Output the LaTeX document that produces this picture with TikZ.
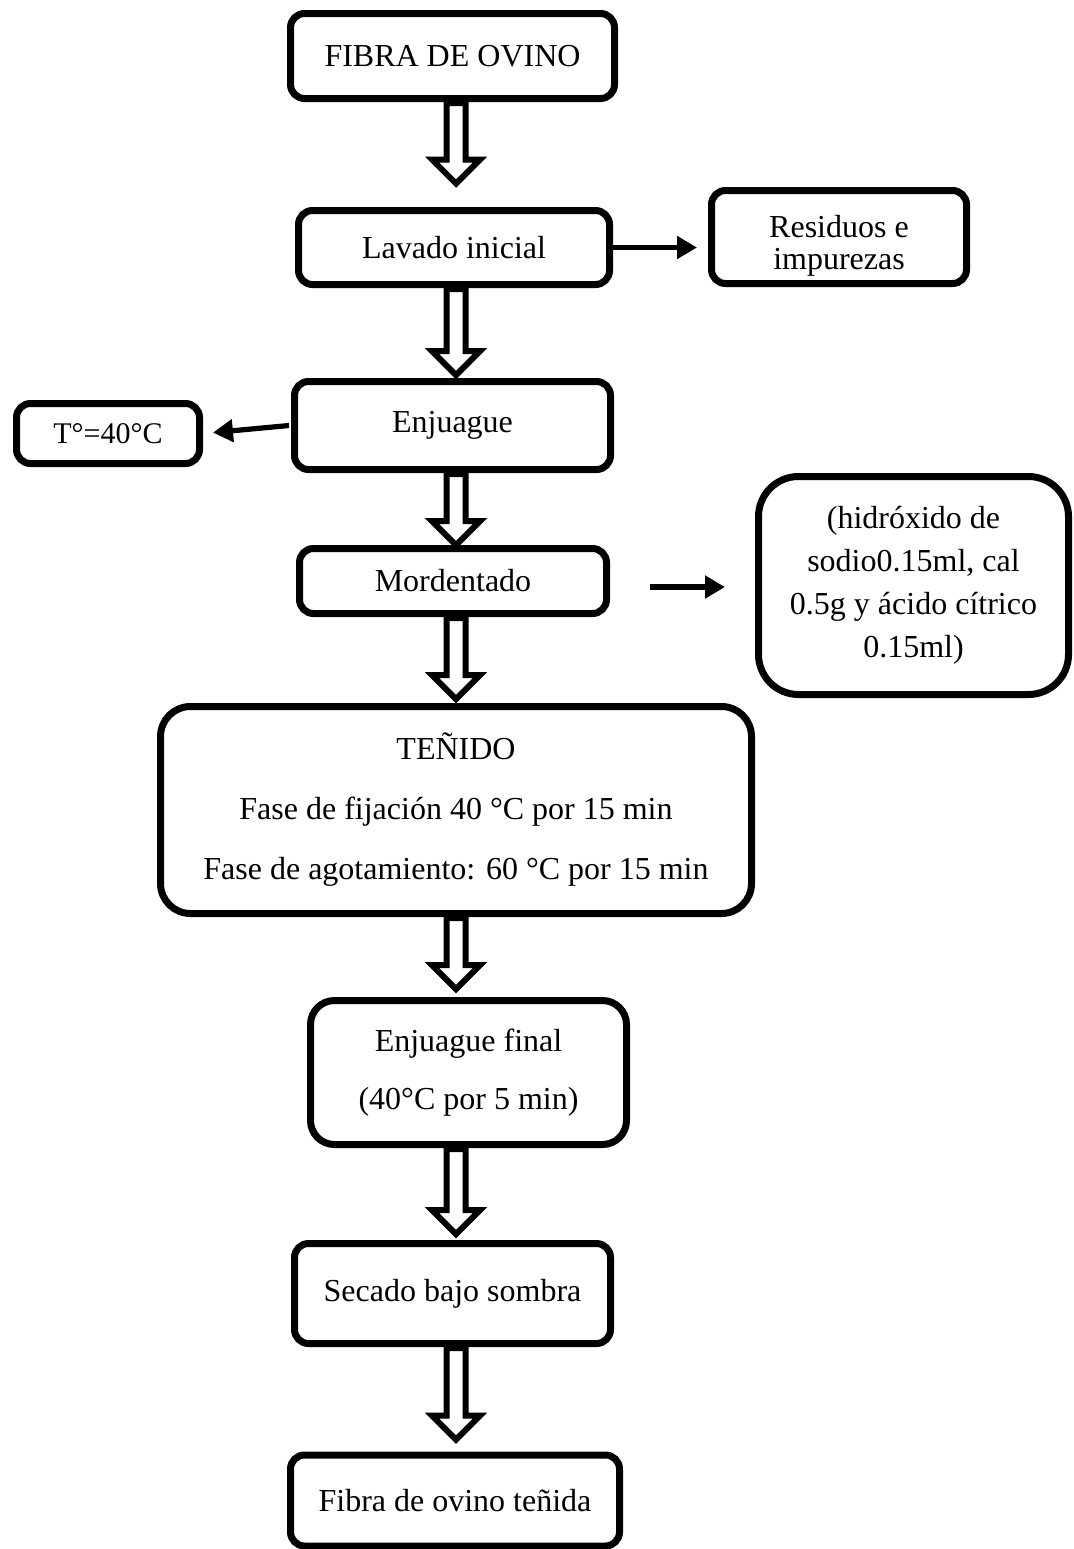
\documentclass[tikz,border=0pt]{standalone}
\usepackage{fontspec}
\setmainfont{Liberation Serif}
\usetikzlibrary{arrows.meta,calc}

\tikzset{
  paso/.style={draw, line width=3.5pt, rounded corners=7pt, align=center,
    inner sep=2pt, font=\fontsize{16}{21.5}\selectfont},
  lateral/.style={line width=2.6pt, -{Triangle[length=10pt,width=11pt]}},
  hueco/.style={draw, line width=3pt, fill=white, line join=miter},
}
% flecha hueca vertical: [hueco al nodo]{salida}{llegada}
\newcommand\hollowarrow[3][0pt]{%
  \draw[hueco] let \p1=(#2 -| eje), \p2=(#3 -| eje) in
    (\x1-4.75pt,\y1-0.5pt) -- (\x1-4.75pt,\y2+#1+12pt) -- (\x1-12pt,\y2+#1+12pt)
    -- (\x1,\y2+#1) -- (\x1+12pt,\y2+#1+12pt) -- (\x1+4.75pt,\y2+#1+12pt)
    -- (\x1+4.75pt,\y1-0.5pt) -- cycle;}

\begin{document}
\begin{tikzpicture}[x=0.5pt,y=-0.5pt]
\useasboundingbox (0,0) rectangle (1074,1549);
\coordinate (eje) at (456,0);

\node[paso, minimum width=162pt, minimum height=42.5pt] (fibra) at (452.5,56) {FIBRA DE OVINO};
\node[paso, minimum width=155.5pt, minimum height=37pt] (lavado) at (454,247.5) {Lavado inicial};
\node[paso, minimum width=127.5pt, minimum height=46.5pt,
  font=\fontsize{16}{16}\selectfont] (residuos) at (839,237)
  {\raisebox{-8.5pt}[0pt][0pt]{\parbox[c]{115pt}{\centering Residuos e\\impurezas}}};
\node[paso, minimum width=91.5pt, minimum height=30pt,
  font=\fontsize{15}{18}\selectfont] (temp) at (108,433.5) {T°=40°C};
\node[paso, minimum width=158pt, minimum height=44pt] (enjuague) at (452.5,425.5) {Enjuague};
\node[paso, minimum width=153.5pt, minimum height=32.5pt] (mordentado) at (453,581) {Mordentado};
\node[paso, minimum width=155pt, minimum height=109pt, rounded corners=20pt] (quimicos) at (913.5,585.5)
  {(hidróxido de\\sodio0.15ml, cal\\0.5g y ácido cítrico\\0.15ml)};
\node[paso, minimum width=295.5pt, minimum height=103.5pt, rounded corners=15pt,
  font=\fontsize{16}{30}\selectfont] (tenido) at (456,810)
  {TEÑIDO\\Fase de fijación 40 °C por 15 min\\Fase de agotamiento: 60 °C por 15 min};
\node[paso, minimum width=158pt, minimum height=72pt, rounded corners=12pt,
  font=\fontsize{16}{29}\selectfont] (final) at (468.5,1072.5) {Enjuague final\\(40°C por 5 min)};
\node[paso, minimum width=158pt, minimum height=50pt] (secado) at (452.5,1293.5) {Secado bajo sombra};
\node[paso, minimum width=164.5pt, minimum height=45.5pt] (tenida) at (455,1500.5) {Fibra de ovino teñida};

\hollowarrow[11.75pt]{fibra.south}{lavado.north}
\hollowarrow[1.5pt]{lavado.south}{enjuague.north}
\hollowarrow{enjuague.south}{mordentado.north}
\hollowarrow[2pt]{mordentado.south}{tenido.north}
\hollowarrow[4pt]{tenido.south}{final.north}
\hollowarrow[3pt]{final.south}{secado.north}
\hollowarrow[6pt]{secado.south}{tenida.north}

\draw[lateral, shorten >=5.5pt] (lavado.east) -- (lavado.east -| residuos.west);
\draw[lateral, shorten >=5pt] ([xshift=-1pt]enjuague.west) -- (temp.east);
\draw[lateral, shorten <=20pt, shorten >=15pt] ([yshift=-3pt]mordentado.east) -- ([yshift=-3pt]mordentado.east -| quimicos.west);
\end{tikzpicture}
\end{document}
